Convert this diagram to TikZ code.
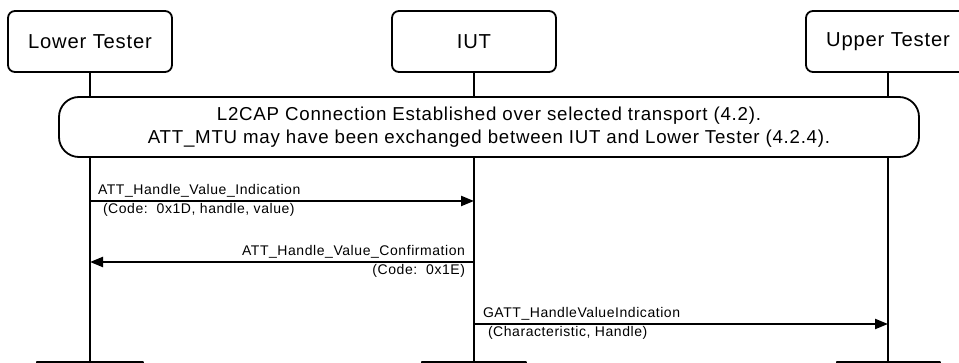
\documentclass[tikz,border=0pt]{standalone}
\usepackage{fontspec}
\setmainfont{Liberation Sans}
\newfontfamily\spacedfont[LetterSpace=4]{Liberation Sans}
\usetikzlibrary{arrows.meta,positioning}
\tikzset{
    msc/diagram/.style={
        x=1pt, y=-1pt,
        line join=round,
        every node/.style={inner sep=0pt, outer sep=0pt}
    },
    msc/entity/.style={
        draw, line width=1.8pt, rounded corners=7pt, fill=white,
        minimum width=164pt, minimum height=61pt,
        font=\spacedfont\fontsize{20.2}{23}\selectfont
    },
    msc/endbox/.style={draw, line width=1.8pt},
    msc/lifeline/.style={line width=2.3pt},
    msc/condition/.style={
        draw, line width=1.8pt, rounded corners=20pt, fill=white,
        minimum width=860pt, minimum height=60pt, align=center,
        font=\spacedfont\fontsize{18.7}{23}\selectfont
    },
    msc/message/.style={
        line width=2.2pt,
        -{Triangle[length=13pt, width=10pt]}
    },
    msc/label/.style={font=\spacedfont\fontsize{14}{16}\selectfont}
}
\begin{document}
\begin{tikzpicture}[msc/diagram]
    \useasboundingbox (0,0) rectangle (959,363);
    \clip (0,0) rectangle (959,363);
    % instances
    \node[msc/entity] (LT)  at (90,41.5)  {Lower Tester};
    \node[msc/entity] (IUT) at (474,41.5) {IUT};
    \node[msc/entity] (UT)  at (888,41.5) {Upper Tester};
    % lifelines
    \coordinate (LTend)  at (90,363);
    \coordinate (IUTend) at (474,363);
    \coordinate (UTend)  at (888,363);
    \draw[msc/lifeline] (LT.south)  -- (LTend);
    \draw[msc/lifeline] (IUT.south) -- (IUTend);
    \draw[msc/lifeline] (UT.south)  -- (UTend);
    \draw[msc/endbox] (37,362) rectangle (143,380);
    \draw[msc/endbox] (422,362) rectangle (526,380);
    \draw[msc/endbox] (837,362) rectangle (940,380);
    % initial condition
    \node[msc/condition] (cond) at (489,127)
        {L2CAP Connection Established over selected transport (4.2).\\
         ATT\_MTU may have been exchanged between IUT and Lower Tester (4.2.4).};
    % messages
    \coordinate (m1a) at (90,201);
    \coordinate (m1b) at (474,201);
    \coordinate (m2a) at (474,262);
    \coordinate (m2b) at (90,262);
    \coordinate (m3a) at (474,324);
    \coordinate (m3b) at (888,324);
    \draw[msc/message] (m1a) -- (m1b);
    \node[msc/label, anchor=base west] (m1top) at (98,195)
        {ATT\_Handle\_Value\_Indication};
    \node[msc/label, anchor=base west] (m1bot) at (103,214)
        {(Code:\ \ 0x1D, handle, value)};
    \draw[msc/message] (m2a) -- (m2b);
    \node[msc/label, anchor=base east] (m2top) at (465,256)
        {ATT\_Handle\_Value\_Confirmation};
    \node[msc/label, anchor=base east] (m2bot) at (465,275)
        {(Code:\ \ 0x1E)};
    \draw[msc/message] (m3a) -- (m3b);
    \node[msc/label, anchor=base west] (m3top) at (483,318)
        {GATT\_HandleValueIndication};
    \node[msc/label, anchor=base west] (m3bot) at (488,337)
        {(Characteristic, Handle)};
\end{tikzpicture}
\end{document}
